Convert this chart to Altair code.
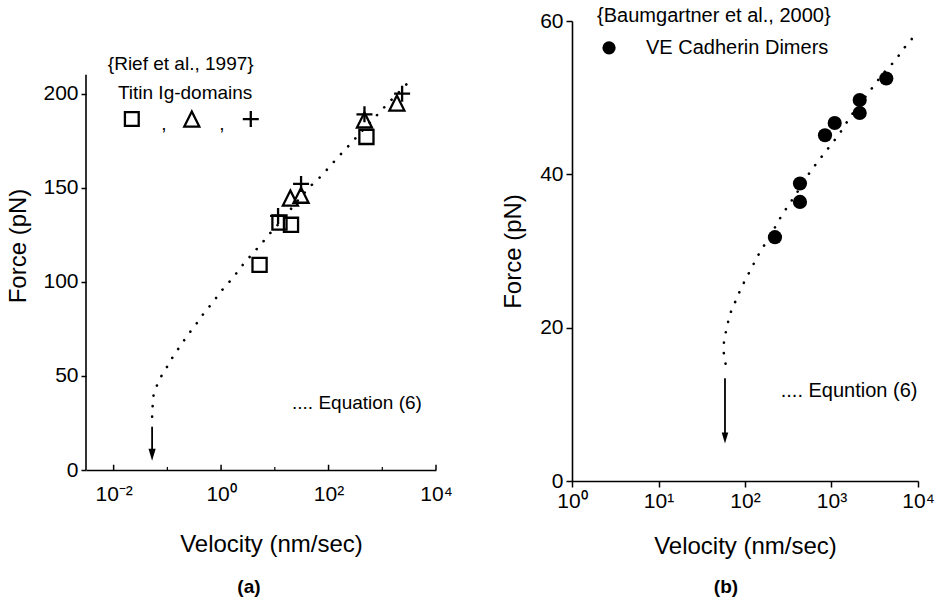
import altair as alt
import pandas as pd

# ---------------- Panel (a): Rief et al., 1997 (Titin Ig-domains) ----------------
sq_v = [5.2, 12.2, 20.0, 507]
sq_f = [109, 131.5, 130.3, 177]
tri_v = [19.5, 30.8, 466, 1870]
tri_f = [144.5, 146, 186, 195]
plus_v = [11.5, 30.8, 466, 2340]
plus_f = [135, 152, 189, 200]

curve_a_v = [0.052, 0.053, 0.0543, 0.0618, 0.0724, 0.0925, 0.1175, 0.156, 0.2084, 0.2767,
             0.3733, 0.4977, 0.7015, 0.975, 1.39, 1.936, 2.642, 3.776, 5.408, 7.709,
             11.35, 17.8, 28.2, 44.7, 70.6, 100.9, 143.9, 211.8, 306.9, 446.7,
             660.7, 963.8, 1318, 1995, 3013, 3388]
curve_a_f = [28.3, 33.2, 38.9, 43.9, 48.6, 53.4, 58.7, 64.0, 69.2, 74.1,
             78.9, 84.1, 89.0, 94.7, 99.6, 104.6, 109.7, 114.7, 119.6, 125.0,
             130.3, 137, 144, 150.5, 155.8, 160.7, 165.7, 170.8, 175.8, 181,
             186, 191.2, 195.2, 200.5, 205.8, 207.5]

xticks_a = [0.01, 1, 100, 10000]
xlabels_a = ["10⁻²", "10⁰", "10²", "10⁴"]
xminor_a = [0.1, 10, 1000]
yticks_a = [0, 50, 100, 150, 200]

# ---------------- Panel (b): Baumgartner et al., 2000 (VE Cadherin Dimers) ----------------
cad_v = [222, 432, 432, 841, 1089, 2118, 2118, 4300]
cad_f = [31.8, 36.4, 38.8, 45.1, 46.7, 49.7, 48.0, 52.5]

curve_b_v = [59.6, 57.1, 56.2, 58.7, 65.3, 71.3, 81.5, 89.1, 101.9, 116.4,
             133.0, 152.1, 189.2, 242.7, 282.5, 398.1, 549.5, 666.8, 818.5, 977.2,
             1222, 1667, 2239, 2965, 3981, 5521, 6592, 8241, 10000]
curve_b_f = [15.3, 16.4, 17.6, 18.9, 21.3, 22.6, 23.9, 25.1, 26.3, 27.6,
             28.8, 30.1, 31.6, 33.9, 35.1, 37.6, 40.1, 41.4, 42.7, 43.8,
             45.2, 47.6, 49.5, 51.3, 53.2, 54.9, 56.2, 57.5, 58.6]

xticks_b = [1, 10, 100, 1000, 10000]
xlabels_b = ["10⁰", "10¹", "10²", "10³", "10⁴"]
yticks_b = [0, 20, 40, 60]

# ---------------- layout constants ----------------
WA, HA = 350, 449
WB, HB = 346, 460
XA_MIN, XA_MAX = 0.00306, 10000
YA_MAX = 238.6
YA_AXIS_TOP = 210

FONT = "Liberation Sans"
DOTS = dict(strokeDash=[0.1, 10.5], strokeCap="round", strokeWidth=2.6, color="black")
PLUS = "M-1,0L1,0M0,-1L0,1"
TRI = "M0,-1L1,1L-1,1Z"
HEAD = "M0,1L-0.6,-1L0.6,-1Z"


def label_expr(vals, labs):
    return " : ".join(f"datum.value == {v} ? '{l}'" for v, l in zip(vals, labs)) + " : ''"


xa = alt.X("v:Q",
           scale=alt.Scale(type="log", domain=[XA_MIN, XA_MAX], nice=False),
           axis=alt.Axis(values=xticks_a, labelExpr=label_expr(xticks_a, xlabels_a),
                         ticks=False, grid=False, domainColor="black", domainWidth=1.6,
                         labelFontSize=21, labelPadding=13, labelFlush=False, labelOverlap=False,
                         title="Velocity (nm/sec)", titleFontSize=24, titleFontWeight="normal",
                         titlePadding=28, titleX=185))
ya = alt.Y("f:Q",
           scale=alt.Scale(domain=[0, YA_MAX], nice=False, zero=False),
           axis=alt.Axis(values=yticks_a, domain=False, tickSize=5, tickWidth=1.5, tickColor="black",
                         grid=False, labelFontSize=21, labelPadding=3,
                         title="Force (pN)", titleFontSize=24, titleFontWeight="normal",
                         titlePadding=12))

xb = alt.X("v:Q",
           scale=alt.Scale(type="log", domain=[1, 10000], nice=False),
           axis=alt.Axis(values=xticks_b, labelExpr=label_expr(xticks_b, xlabels_b),
                         tickSize=6, tickWidth=1.5, tickColor="black", grid=False,
                         domainColor="black", domainWidth=1.6,
                         labelFontSize=21, labelPadding=3, labelFlush=False, labelOverlap=False,
                         title="Velocity (nm/sec)", titleFontSize=24, titleFontWeight="normal",
                         titlePadding=23))
yb = alt.Y("f:Q",
           scale=alt.Scale(domain=[0, 60], nice=False, zero=False),
           axis=alt.Axis(values=yticks_b, tickSize=6, tickWidth=1.5, tickColor="black",
                         domainColor="black", domainWidth=1.6, grid=False,
                         labelFontSize=21, labelPadding=3,
                         title="Force (pN)", titleFontSize=24, titleFontWeight="normal",
                         titlePadding=14))


def df(v, f, **extra):
    d = {"v": v, "f": f}
    d.update(extra)
    return pd.DataFrame(d)


# ---------------- left panel ----------------
curve_a = alt.Chart(df(curve_a_v, curve_a_f, i=list(range(len(curve_a_v))))).mark_line(**DOTS).encode(
    x=xa, y=ya, order="i:O")
squares = alt.Chart(df(sq_v, sq_f)).mark_point(shape="square", size=200, filled=False,
                                               color="black", strokeWidth=2.3, opacity=1).encode(x=xa, y=ya)
tris = alt.Chart(df(tri_v, tri_f)).mark_point(shape=TRI, size=225, filled=False,
                                              color="black", strokeWidth=2.3, opacity=1).encode(x=xa, y=ya)
pluses = alt.Chart(df(plus_v, plus_f)).mark_point(shape=PLUS, size=256, filled=False,
                                                  color="black", strokeWidth=2.3, opacity=1).encode(x=xa, y=ya)

axis_line_a = alt.Chart(df([XA_MIN], [0], f2=[YA_AXIS_TOP])).mark_rule(color="black", strokeWidth=1.6).encode(
    x=xa, y=ya, y2="f2:Q")
major_ticks_a = alt.Chart(df(xticks_a, [0] * len(xticks_a), f2=[2.8] * len(xticks_a))).mark_rule(
    color="black", strokeWidth=1.5).encode(x=xa, y=ya, y2="f2:Q")
minor_ticks_a = alt.Chart(df(xminor_a, [0] * len(xminor_a), f2=[1.6] * len(xminor_a))).mark_rule(
    color="black", strokeWidth=1.2).encode(x=xa, y=ya, y2="f2:Q")

arrow_a = alt.Chart(df([0.052], [23.0], f2=[8.5])).mark_rule(color="black", strokeWidth=1.8).encode(
    x=xa, y=ya, y2="f2:Q")
head_a = alt.Chart(df([0.052], [8.1])).mark_point(shape=HEAD, size=144, filled=True, color="black",
                                                 opacity=1).encode(x=xa, y=ya)

txt_a = alt.Chart(df([0.0078, 0.012, 20.9], [215.8, 200.4, 35.7],
                     t=["{Rief et al., 1997}", "Titin Ig-domains", ".... Equation (6)"])).mark_text(
    align="left", baseline="middle", fontSize=19, color="black", font=FONT).encode(x=xa, y=ya, text="t:N")
leg_sq = alt.Chart(df([0.0218], [186.5])).mark_point(shape="square", size=190, filled=False, color="black",
                                                      strokeWidth=2.3, opacity=1).encode(x=xa, y=ya)
leg_tri = alt.Chart(df([0.285], [186.5])).mark_point(shape=TRI, size=225, filled=False, color="black",
                                                      strokeWidth=2.3, opacity=1).encode(x=xa, y=ya)
leg_plus = alt.Chart(df([3.57], [186.5])).mark_point(shape=PLUS, size=256, filled=False, color="black",
                                                      strokeWidth=2.3, opacity=1).encode(x=xa, y=ya)
commas = alt.Chart(df([0.0859, 1.03], [184.0, 184.0], t=[",", ","])).mark_text(
    align="center", baseline="middle", fontSize=19, color="black", font=FONT).encode(x=xa, y=ya, text="t:N")
lab_a = alt.Chart(df([3.3], [-62.0], t=["(a)"])).mark_text(
    align="center", baseline="middle", fontSize=19, fontWeight="bold", color="black", font=FONT).encode(
    x=xa, y=ya, text="t:N")

left = alt.layer(curve_a, squares, tris, pluses, axis_line_a, major_ticks_a, minor_ticks_a,
                 arrow_a, head_a, txt_a, leg_sq, leg_tri, leg_plus, commas, lab_a).properties(
    width=WA, height=HA)

# ---------------- right panel ----------------
curve_b = alt.Chart(df(curve_b_v, curve_b_f, i=list(range(len(curve_b_v))))).mark_line(**DOTS).encode(
    x=xb, y=yb, order="i:O")
circles = alt.Chart(df(cad_v, cad_f)).mark_point(shape="circle", size=201, filled=True, color="black",
                                                 opacity=1).encode(x=xb, y=yb)
arrow_b = alt.Chart(df([58.7], [13.4], f2=[6.0])).mark_rule(color="black", strokeWidth=1.8).encode(
    x=xb, y=yb, y2="f2:Q")
head_b = alt.Chart(df([58.7], [5.6])).mark_point(shape=HEAD, size=120, filled=True, color="black",
                                                opacity=1).encode(x=xb, y=yb)
txt_b = alt.Chart(df([1.95, 7.17, 259], [60.65, 56.5, 11.7],
                     t=["{Baumgartner et al., 2000}", "VE Cadherin Dimers", ".... Equntion (6)"])).mark_text(
    align="left", baseline="middle", fontSize=20, color="black", font=FONT).encode(x=xb, y=yb, text="t:N")
leg_circ = alt.Chart(df([2.68], [56.5])).mark_point(shape="circle", size=177, filled=True, color="black",
                                                    opacity=1).encode(x=xb, y=yb)
lab_b = alt.Chart(df([60.3], [-13.8], t=["(b)"])).mark_text(
    align="center", baseline="middle", fontSize=19, fontWeight="bold", color="black", font=FONT).encode(
    x=xb, y=yb, text="t:N")

right = alt.layer(curve_b, circles, arrow_b, head_b, txt_b, leg_circ, lab_b).properties(
    width=WB, height=HB)

chart = alt.hconcat(left, right, spacing=136, bounds="flush").properties(
    padding={"left": 6, "top": 6, "right": 0, "bottom": 0}
).configure(font=FONT, background="white").configure_view(stroke=None).configure_axis(
    labelColor="black", titleColor="black", labelFont=FONT, titleFont=FONT)

chart.save("out.html", embed_options={"renderer": "svg", "actions": False})
